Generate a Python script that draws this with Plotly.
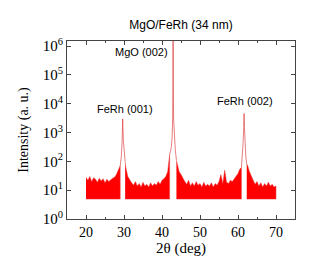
import plotly.graph_objects as go

# ---- data ----
background_floor = 4.9

seg_a_x = [20.0, 20.5, 21.0, 21.5, 22.0, 22.5, 23.0, 23.5, 24.0, 24.5, 25.0, 25.5, 26.0, 26.5, 27.0, 27.5, 28.0, 28.5, 29.0]
seg_a_y = [28, 22, 30, 20, 27, 24, 19, 26, 21, 25, 18, 24, 20, 23, 26, 28, 35, 50, 70]

seg_b_x = [30.3, 30.5, 31.0, 31.5, 32.0, 32.5, 33.0, 33.5, 34.0, 34.5, 35.0, 35.5, 36.0, 36.5, 37.0, 37.5, 38.0, 38.5, 39.0, 39.5, 40.0, 40.5, 41.0, 41.5, 41.8, 42.0]
seg_b_y = [100, 60, 30, 22, 18, 15, 20, 14, 17, 13, 19, 14, 16, 13, 18, 14, 17, 15, 20, 16, 22, 25, 30, 45, 80, 170]

seg_c_x = [43.8, 44.0, 44.5, 45.0, 45.5, 46.0, 46.5, 47.0, 47.5, 48.0, 48.5, 49.0, 49.5, 50.0, 50.5, 51.0, 51.5, 52.0, 52.5, 53.0, 53.5, 54.0, 54.5, 55.0, 55.5, 56.0, 56.5, 57.0, 57.5, 58.0, 58.5, 59.0, 59.5, 60.0, 60.5, 60.9]
seg_c_y = [110, 80, 45, 35, 25, 20, 16, 22, 14, 18, 14, 20, 15, 17, 13, 19, 14, 16, 14, 18, 13, 17, 15, 20, 35, 17, 50, 19, 17, 22, 20, 25, 30, 38, 55, 60]

seg_d_x = [62.3, 62.5, 63.0, 63.5, 64.0, 64.5, 65.0, 65.5, 66.0, 66.5, 67.0, 67.5, 68.0, 68.5, 69.0, 69.5, 70.0]
seg_d_y = [80, 75, 45, 30, 22, 16, 20, 14, 18, 13, 17, 14, 19, 14, 16, 13, 14]

fe001_x = [29.0, 29.3, 29.5, 29.6, 29.66, 29.72, 29.85, 30.05, 30.3]
fe001_y = [70, 150, 500, 1500, 3000, 1500, 500, 150, 100]

mgo002_x = [42.0, 42.4, 42.65, 42.8, 42.88, 42.92, 42.96, 43.05, 43.25, 43.5, 43.8]
mgo002_y = [170, 280, 600, 3000, 60000, 1600000, 60000, 3000, 600, 250, 110]

fe002_x = [60.9, 61.15, 61.35, 61.5, 61.6, 61.7, 61.85, 62.05, 62.3]
fe002_y = [60, 150, 450, 1500, 4600, 1500, 450, 150, 80]

x_ticks = [20, 30, 40, 50, 60, 70]
y_tick_exps = [0, 1, 2, 3, 4, 5, 6]

peak_labels = ["FeRh (001)", "MgO (002)", "FeRh (002)"]
label_x = [30.3, 34.5, 61.8]
label_y = [3.82, 5.80, 4.11]

RED = "#ff0000"
PEAK = "rgba(215,40,40,0.75)"

fig = go.Figure()

for sx, sy in [(seg_a_x, seg_a_y), (seg_b_x, seg_b_y), (seg_c_x, seg_c_y), (seg_d_x, seg_d_y)]:
    px = list(sx) + list(reversed(sx))
    py = list(sy) + [background_floor] * len(sx)
    fig.add_trace(go.Scatter(x=px, y=py, mode="lines", fill="toself",
                             fillcolor=RED, line=dict(color="rgba(230,60,60,0.8)", width=0.6),
                             showlegend=False, hoverinfo="skip"))

for px, py in [(fe001_x, fe001_y), (mgo002_x, mgo002_y), (fe002_x, fe002_y)]:
    fig.add_trace(go.Scatter(x=px, y=py, mode="lines",
                             line=dict(color=PEAK, width=0.8),
                             showlegend=False))

for t, ax, ay in zip(peak_labels, label_x, label_y):
    fig.add_annotation(x=ax, y=ay, text=t, showarrow=False,
                       font=dict(family="Liberation Sans, Arial", size=11, color="black"))

fig.update_layout(
    width=332, height=257,
    margin=dict(l=59, r=45, t=33, b=44),
    paper_bgcolor="white", plot_bgcolor="white",
    title=dict(text="MgO/FeRh (34 nm)", x=0.521, xanchor="center", y=0.935, yanchor="middle",
               font=dict(family="Liberation Sans, Arial", size=12, color="black")),
)

fig.update_xaxes(
    range=[15, 75], tickvals=x_ticks, ticks="inside", ticklen=4, tickwidth=1,
    tickcolor="#444", showline=True, linecolor="#444", linewidth=1, mirror="ticks",
    showgrid=False, zeroline=False,
    minor=dict(dtick=5, tick0=0, ticks="inside", ticklen=2, tickcolor="#444", showgrid=False),
    tickfont=dict(family="Liberation Serif, Times New Roman", size=14, color="black"),
    title=dict(text="2θ (deg)", standoff=3,
               font=dict(family="Liberation Serif, Times New Roman", size=15, color="black")),
)

fig.update_yaxes(
    type="log", range=[0, 6.18],
    tickvals=[10 ** e for e in y_tick_exps],
    ticktext=["10<sup>%d</sup>" % e for e in y_tick_exps],
    ticks="inside", ticklen=4, tickwidth=1, tickcolor="#444",
    showline=True, linecolor="#444", linewidth=1, mirror="ticks",
    showgrid=False, zeroline=False,
    tickfont=dict(family="Liberation Serif, Times New Roman", size=15, color="black"),
    title=dict(text="Intensity (a. u.)", standoff=10,
               font=dict(family="Liberation Serif, Times New Roman", size=14, color="black")),
)

fig.write_html("out.html")
